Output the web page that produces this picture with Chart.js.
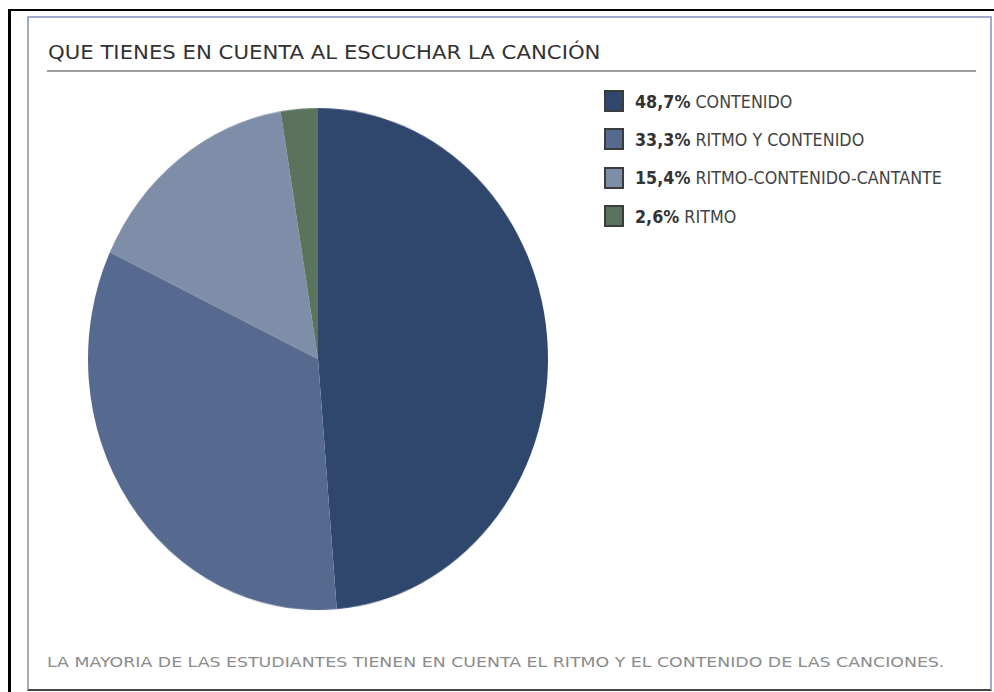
<!DOCTYPE html>
<html>
<head>
<meta charset="utf-8">
<script src="https://cdn.jsdelivr.net/npm/chart.js@4.4.1/dist/chart.umd.min.js"></script>
<style>
  html, body { margin: 0; padding: 0; background: #fff; width: 994px; height: 692px; overflow: hidden; }
  .abs { position: absolute; }
  #outer { left: 8px; top: 9px; width: 1000px; height: 700px; border-left: 3px solid #000; border-top: 2px solid #000; }
  #inner { left: 27px; top: 16px; width: 961px; height: 671px; border: 2px solid #a3a8cf; border-bottom: 2px solid #444; background: #fff; }
  #title { left: 48px; top: 42px; font-family: "DejaVu Sans", sans-serif; font-size: 20px; line-height: 20px; color: #333; white-space: nowrap; transform-origin: 0 0; }
  #rule { left: 47px; top: 70px; width: 929px; height: 2px; background: #a0a0a0; }
  #pieWrap { left: 78px; top: 119px; width: 480px; height: 480px; transform: scaleY(1.0913); transform-origin: 50% 50%; }
  .lbox { width: 20px; height: 22px; box-sizing: border-box; border: 2px solid #3c3c3c; }
  .ltext { font-family: "DejaVu Sans", sans-serif; font-size: 17px; line-height: 17px; color: #444; white-space: nowrap; transform-origin: 0 0; }
  .ltext b { color: #333; }
  #caption { left: 47px; top: 655px; font-family: "DejaVu Sans", sans-serif; font-size: 14px; line-height: 14px; color: #8c8c8c; white-space: nowrap; transform-origin: 0 0; }
</style>
</head>
<body>
<script>
// ---- data ----
const titleText = "QUE TIENES EN CUENTA AL ESCUCHAR LA CANCIÓN";
const captionText = "LA MAYORIA DE LAS ESTUDIANTES TIENEN EN CUENTA EL RITMO Y EL CONTENIDO DE LAS CANCIONES.";
const categories = ["CONTENIDO", "RITMO Y CONTENIDO", "RITMO-CONTENIDO-CANTANTE", "RITMO"];
const values = [48.7, 33.3, 15.4, 2.6];
const sliceColors = ["#2f466d", "#56698f", "#7f8ea8", "#5b735d"];
</script>
<div id="outer" class="abs"></div>
<div id="inner" class="abs"></div>
<div id="title" class="abs"></div>
<div id="rule" class="abs"></div>
<div id="pieWrap" class="abs"><canvas id="pie" width="480" height="480"></canvas></div>
<div id="legend"></div>
<div id="caption" class="abs"></div>
<script>
function fitWidth(el, target) {
  el.style.display = 'inline-block';
  const w = el.scrollWidth;
  const s = target / w;
  el.style.transform = 'scaleX(' + s + ')';
  return s;
}
const titleEl = document.getElementById('title');
titleEl.textContent = titleText;
fitWidth(titleEl, 553);

const capEl = document.getElementById('caption');
capEl.textContent = captionText;
fitWidth(capEl, 897);

const legend = document.getElementById('legend');
const rowTexts = [];
categories.forEach((c, i) => {
  const y0 = 90 + i * 38.3;
  const box = document.createElement('div');
  box.className = 'abs lbox';
  box.style.left = '604px';
  box.style.top = y0 + 'px';
  box.style.background = sliceColors[i];
  legend.appendChild(box);
  const t = document.createElement('div');
  t.className = 'abs ltext';
  t.style.left = '635px';
  t.style.top = (y0 + 3.6) + 'px';
  const b = document.createElement('b');
  b.textContent = values[i].toFixed(1).replace('.', ',') + '%';
  t.appendChild(b);
  t.appendChild(document.createTextNode(' ' + c));
  legend.appendChild(t);
  rowTexts.push(t);
});
rowTexts.forEach(t => t.style.display = 'inline-block');
const sc = 307 / rowTexts[2].scrollWidth;
rowTexts.forEach(t => t.style.transform = 'scaleX(' + sc + ')');

new Chart(document.getElementById('pie'), {
  type: 'pie',
  data: {
    labels: categories,
    datasets: [{ data: values, backgroundColor: sliceColors, borderWidth: 0 }]
  },
  options: {
    responsive: false,
    animation: false,
    devicePixelRatio: 1,
    layout: { padding: 10 },
    plugins: { legend: { display: false }, tooltip: { enabled: false }, title: { display: false } }
  }
});
</script>
</body>
</html>
